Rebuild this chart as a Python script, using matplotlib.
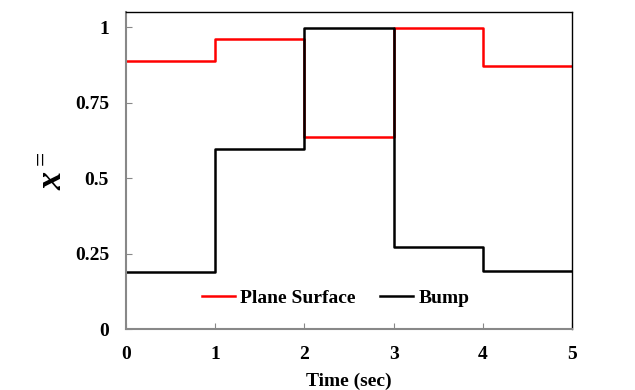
import matplotlib
matplotlib.use('Agg')
import matplotlib.pyplot as plt

# step values per 1-second interval
time = [0, 1, 2, 3, 4, 5]
plane_surface = [0.889, 0.962, 0.637, 0.997, 0.872]
bump = [0.188, 0.598, 0.998, 0.273, 0.192]

plt.rcParams['font.family'] = ['Liberation Serif', 'DejaVu Serif']
plt.rcParams['font.weight'] = 'bold'
plt.rcParams['mathtext.fontset'] = 'custom'
plt.rcParams['mathtext.rm'] = 'Liberation Serif:bold'
plt.rcParams['mathtext.it'] = 'Liberation Serif:italic:bold'

fig = plt.figure(figsize=(6.35, 3.9), dpi=100)
ax = fig.add_axes([0.198, 0.156, 0.703, 0.813])

ax.plot(time, plane_surface + plane_surface[-1:], drawstyle='steps-post',
        color='#ff0000', lw=1.8, label='Plane Surface')
ax.plot(time, bump + bump[-1:], drawstyle='steps-post',
        color='black', lw=1.8, label='Bump')

ax.set_xlim(0, 5)
ax.set_ylim(0, 1.051)
ax.set_xticks(time)
ax.set_yticks([0, 0.25, 0.5, 0.75, 1])
ax.set_yticklabels(['0', '0.25', '0.5', '0.75', '1'])

for s in ['left', 'bottom']:
    ax.spines[s].set_color('#888888')
    ax.spines[s].set_linewidth(1.5)
for s in ['top', 'right']:
    ax.spines[s].set_color('black')
    ax.spines[s].set_linewidth(1.0)

ax.tick_params(direction='in', length=4, color='#888888', labelsize=14,
               top=False, right=False)
ax.tick_params(axis='x', pad=12)
ax.tick_params(axis='y', pad=12)

ax.set_xlabel('Time (sec)', fontsize=14, fontweight='bold', labelpad=7)
ax.set_ylabel(r'$x^{=}$', fontsize=26)
ax.yaxis.set_label_coords(-0.125, 0.5)

ax.legend(loc='center', bbox_to_anchor=(0.47, 0.098), ncol=2, frameon=False,
          handlelength=1.7, handletextpad=0.25, columnspacing=1.3,
          prop={'weight': 'bold', 'size': 14})

fig.savefig('out.png', dpi=100)
